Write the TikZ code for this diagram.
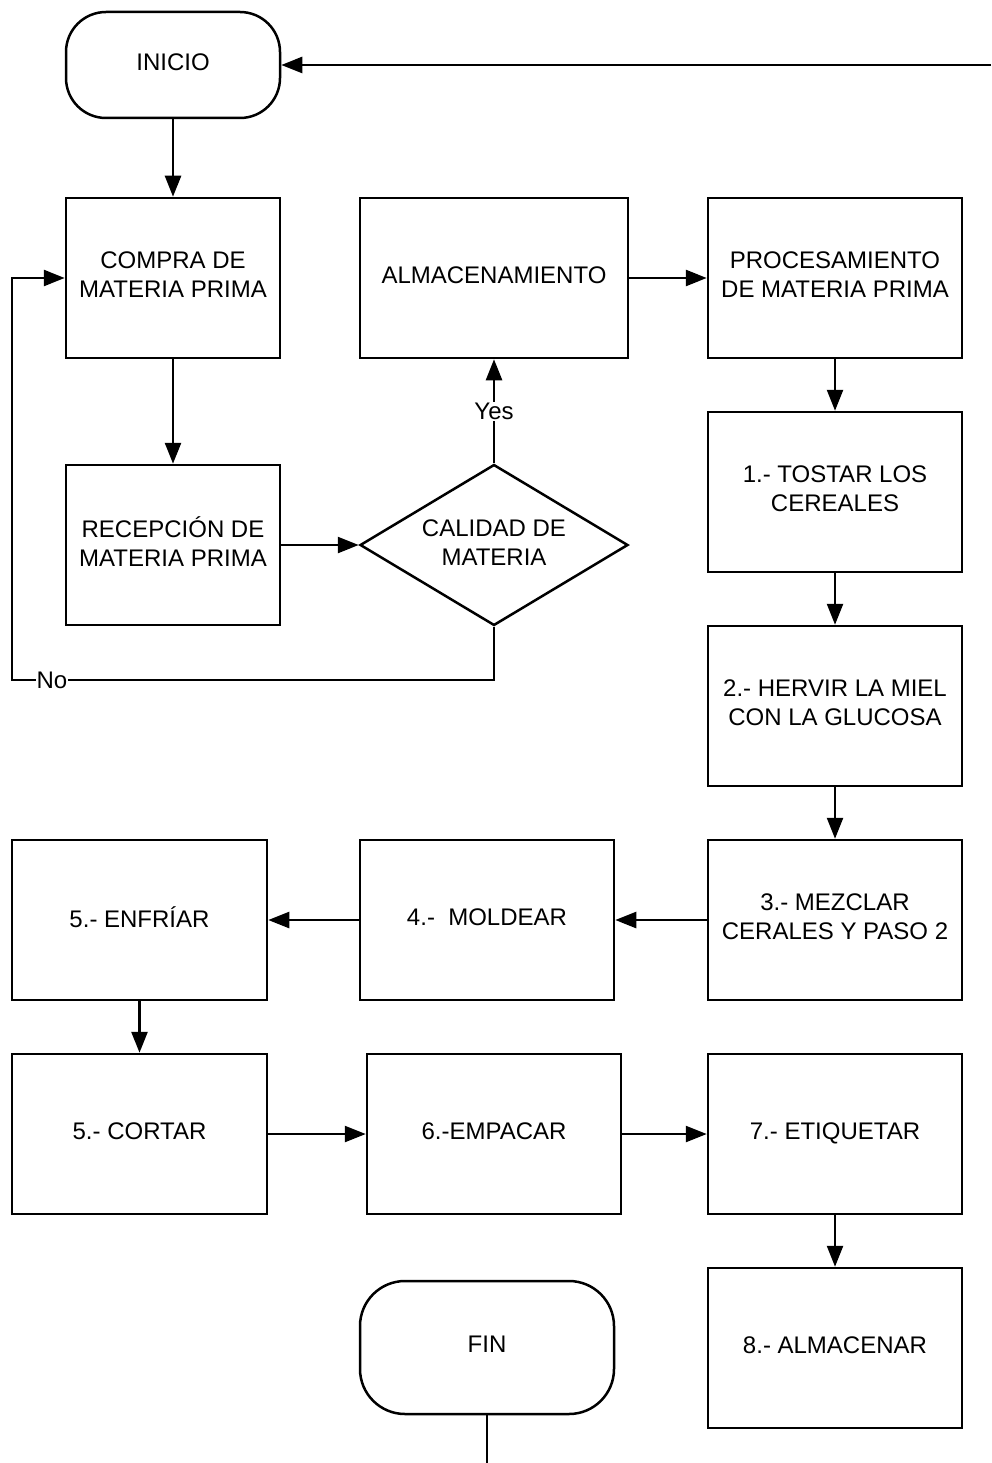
\documentclass[tikz,border=0pt]{standalone}
\usepackage{fontspec}
\setmainfont{Liberation Sans}
\usetikzlibrary{arrows.meta,shapes.geometric}

\begin{document}
\begin{tikzpicture}[x=1pt,y=-1pt,
		font=\fontsize{24}{29}\selectfont,
		line width=2.5pt,
		caja/.style={draw,rectangle,align=center,minimum width=254pt,minimum height=160pt,inner sep=0pt,text depth=6pt},
		terminal/.style={draw,rectangle,rounded corners=45pt,align=center,inner sep=0pt,text depth=6pt},
		decision/.style={draw,diamond,aspect=1.66,align=center,minimum width=268pt,minimum height=161pt,inner sep=0pt,text depth=5pt},
		flecha/.style={-{Triangle[length=21pt,width=16pt]}},
		etiq/.style={fill=white,inner sep=1pt}]
		\useasboundingbox (0,0) rectangle (991,1463);
		
		\node[terminal,minimum width=214pt,minimum height=106pt,rounded corners=40pt] (inicio) at (173,65) {INICIO};
		\node[caja,minimum width=214pt] (compra) at (173,278) {COMPRA DE\\MATERIA PRIMA};
		\node[caja,minimum width=268pt] (almacen) at (494,278) {ALMACENAMIENTO};
		\node[caja] (proces) at (835,278) {PROCESAMIENTO\\DE MATERIA PRIMA};
		\node[caja,minimum width=214pt] (recep) at (173,545) {RECEPCIÓN DE\\MATERIA PRIMA};
		\node[decision] (calidad) at (494,545) {CALIDAD DE\\MATERIA};
		\node[caja] (tostar) at (835,492) {1.- TOSTAR LOS\\CEREALES};
		\node[caja] (hervir) at (835,706) {2.- HERVIR LA MIEL\\CON LA GLUCOSA};
		\node[caja] (mezclar) at (835,920) {3.- MEZCLAR\\CERALES Y PASO 2};
		\node[caja] (moldear) at (487,920) {4.-~ MOLDEAR};
		\node[caja,minimum width=255pt] (enfriar) at (139.5,920) {5.- ENFRÍAR};
		\node[caja,minimum width=255pt] (cortar) at (139.5,1134) {5.- CORTAR};
		\node[caja] (empacar) at (494,1134) {6.-EMPACAR};
		\node[caja] (etiquetar) at (835,1134) {7.- ETIQUETAR};
		\node[caja] (almacenar) at (835,1348) {8.- ALMACENAR};
		\node[terminal,minimum width=254pt,minimum height=133pt] (fin) at (487,1347.5) {FIN};
		
		\coordinate (entrada) at (991,65);
		\coordinate (noA) at (494,680);
		\coordinate (noB) at (12,680);
		\coordinate (noC) at (12,278);
		\coordinate (salida) at (487,1463);
		
		\draw[flecha] (entrada) -- (inicio.east);
		\draw[flecha] (inicio) -- (compra);
		\draw[flecha] (compra) -- (recep);
		\draw[flecha] (recep) -- (calidad);
		\draw[flecha] (calidad) -- node[etiq] {Yes} (almacen);
		\draw[flecha] (calidad.south) -- (noA) -- node[etiq,pos=0.917] {No} (noB) -- (noC) -- (compra.west);
		\draw[flecha] (almacen) -- (proces);
		\draw[flecha] (proces) -- (tostar);
		\draw[flecha] (tostar) -- (hervir);
		\draw[flecha] (hervir) -- (mezclar);
		\draw[flecha] (mezclar) -- (moldear);
		\draw[flecha] (moldear) -- (enfriar);
		\draw[flecha] (enfriar) -- (cortar);
		\draw[flecha] (cortar) -- (empacar);
		\draw[flecha] (empacar) -- (etiquetar);
		\draw[flecha] (etiquetar) -- (almacenar);
		\draw (fin) -- (salida);
\end{tikzpicture}
\end{document}
